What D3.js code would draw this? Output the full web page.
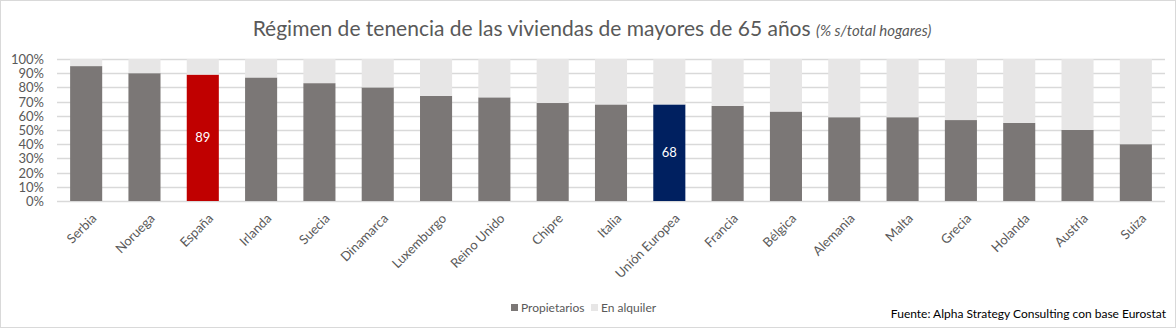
<!doctype html>
<html>
<head>
  <meta charset="utf-8">
  <title>Régimen de tenencia</title>
  <style>
  body{ margin:0; background:#fff; font-family: Lato, "Open Sans", sans-serif; }
  svg{ display:block; }
  .tick text{ fill:#595959; }
  </style>
</head>
<body>
  <svg></svg>
  <script src="https://d3js.org/d3.v7.min.js"></script>
  <script>
  var width = 1176;
  var height = 328;

  var paises = ['Serbia', 'Noruega', 'España', 'Irlanda', 'Suecia', 'Dinamarca', 'Luxemburgo',
    'Reino Unido', 'Chipre', 'Italia', 'Unión Europea', 'Francia', 'Bélgica', 'Alemania',
    'Malta', 'Grecia', 'Holanda', 'Austria', 'Suiza'];
  var propietarios = [95, 90, 89, 87, 83, 80, 74, 73, 69, 68, 68, 67, 63, 59, 59, 57, 55, 50, 40];
  var alquiler = propietarios.map(function(v){ return 100 - v; });
  var ticks = [0, 10, 20, 30, 40, 50, 60, 70, 80, 90, 100];
  var destacados = { 'España': '#c00000', 'Unión Europea': '#002060' };

  var margin = { top: 59, left: 57, right: 11, bottom: 126 };

  var svg = d3.select('svg')
    .attr('width', width)
    .attr('height', height);

  svg.append('rect')
    .attr('x', 0.5).attr('y', 0.5)
    .attr('width', width - 1).attr('height', height - 1)
    .attr('fill', '#fff').attr('stroke', '#d9d9d9');

  var x = d3.scaleBand()
    .domain(paises)
    .range([margin.left, width - margin.right])
    .paddingInner(0.45)
    .paddingOuter(0.225);

  var y = d3.scaleLinear()
    .domain([0, 100])
    .range([height - margin.bottom - 1, margin.top]);

  // gridlines
  svg.append('g')
    .selectAll('line').data(ticks).enter().append('line')
      .attr('x1', margin.left).attr('x2', width - margin.right)
      .attr('y1', function(d){ return Math.round(y(d)) + 0.5; })
      .attr('y2', function(d){ return Math.round(y(d)) + 0.5; })
      .attr('stroke', '#d9d9d9').attr('stroke-width', 1.5);

  var yAxis = svg.append('g')
    .attr('transform', 'translate(' + (margin.left - 13) + ',0)')
    .call(d3.axisLeft(y).tickValues(ticks).tickSize(0).tickPadding(0)
      .tickFormat(function(d){ return d + '%'; }));
  yAxis.select('.domain').remove();
  yAxis.selectAll('text').attr('font-size', 13).attr('font-family', 'Lato').attr('dy', '0.34em');

  var datos = paises.map(function(p, i){
    return { pais: p, propietarios: propietarios[i], alquiler: alquiler[i] };
  });

  var stack = d3.stack().keys(['propietarios', 'alquiler'])(datos);
  var colores = { propietarios: '#7b7776', alquiler: '#e7e6e6' };

  svg.append('g').selectAll('g').data(stack).enter().append('g')
    .each(function(serie){
      d3.select(this).selectAll('rect').data(serie).enter().append('rect')
        .attr('x', function(d){ return x(d.data.pais); })
        .attr('width', x.bandwidth())
        .attr('y', function(d){ return y(d[1]); })
        .attr('height', function(d){ return y(d[0]) - y(d[1]); })
        .attr('fill', function(d){
          if(serie.key === 'propietarios' && destacados[d.data.pais]) return destacados[d.data.pais];
          return colores[serie.key];
        });
    });

  // value labels on highlighted bars
  svg.append('g').selectAll('text')
    .data(datos.filter(function(d){ return destacados[d.pais]; }))
    .enter().append('text')
      .attr('x', function(d){ return x(d.pais) + x.bandwidth() / 2; })
      .attr('y', function(d){ return y(d.propietarios / 2); })
      .attr('dy', '0.35em')
      .attr('text-anchor', 'middle')
      .attr('font-size', 13)
      .attr('fill', '#fff')
      .text(function(d){ return d.propietarios; });

  var xAxis = svg.append('g')
    .attr('transform', 'translate(0,' + (height - margin.bottom + 8) + ')')
    .call(d3.axisBottom(x).tickSize(0).tickPadding(0));
  xAxis.select('.domain').remove();
  xAxis.selectAll('text')
    .attr('font-size', 13)
    .attr('font-family', 'Lato')
    .attr('text-anchor', 'end')
    .attr('dy', '0.35em')
    .attr('transform', 'translate(8,6) rotate(-45)');

  // title
  var titulo = svg.append('text')
    .attr('x', 592).attr('y', 36)
    .attr('text-anchor', 'middle')
    .attr('fill', '#595959');
  titulo.append('tspan')
    .attr('font-size', 21)
    .text('Régimen de tenencia de las viviendas de mayores de 65 años ');
  titulo.append('tspan')
    .attr('font-size', 15).attr('font-style', 'italic')
    .text('(% s/total hogares)');

  // legend
  var leyenda = [['Propietarios', colores.propietarios], ['En alquiler', colores.alquiler]];
  var lx = [511, 591];
  var lg = svg.append('g').selectAll('g').data(leyenda).enter().append('g')
    .attr('transform', function(d, i){ return 'translate(' + lx[i] + ',303)'; });
  lg.append('rect').attr('width', 7).attr('height', 7).attr('y', 1)
    .attr('fill', function(d){ return d[1]; });
  lg.append('text').attr('x', 10).attr('y', 5).attr('dy', '0.35em')
    .attr('font-size', 12).attr('fill', '#595959')
    .text(function(d){ return d[0]; });

  svg.append('text')
    .attr('x', width - 10).attr('y', 318)
    .attr('text-anchor', 'end')
    .attr('font-family', '"Liberation Sans Narrow", Lato')
    .attr('font-size', 12)
    .attr('fill', '#000')
    .text('Fuente: Alpha Strategy Consulting con base Eurostat');
  </script>
</body>
</html>
